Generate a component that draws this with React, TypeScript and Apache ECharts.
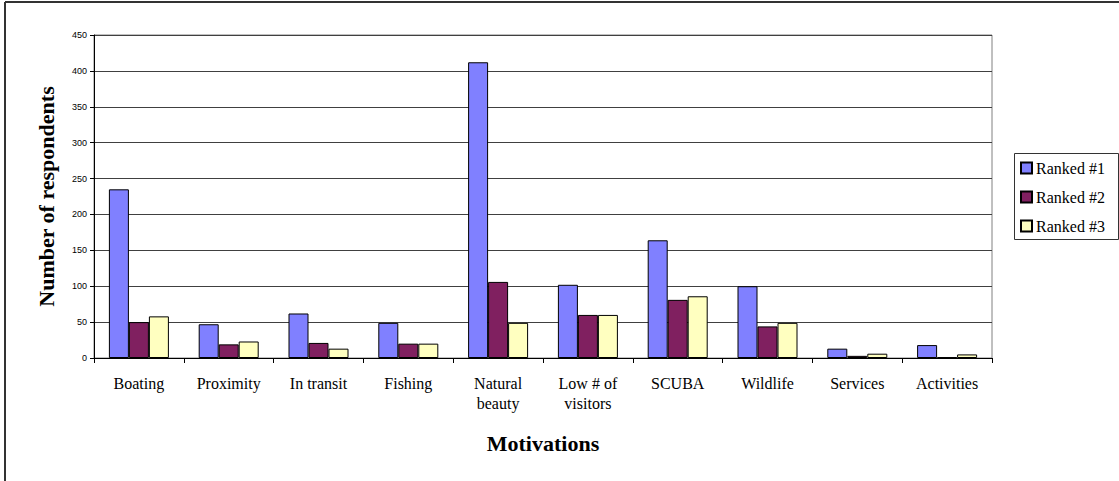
import React, { useEffect, useRef } from "react";
import * as echarts from "echarts";

const categories = [
  "Boating",
  "Proximity",
  "In transit",
  "Fishing",
  "Natural\nbeauty",
  "Low # of\nvisitors",
  "SCUBA",
  "Wildlife",
  "Services",
  "Activities",
];
const seriesNames = ["Ranked #1", "Ranked #2", "Ranked #3"];
const ranked1 = [235, 47, 62, 49, 412, 102, 164, 100, 13, 18];
const ranked2 = [50, 19, 21, 20, 106, 60, 81, 44, 3, 1];
const ranked3 = [58, 23, 13, 20, 49, 60, 86, 49, 6, 5];
const seriesColors = ["#8080FF", "#802060", "#FFFFC0"];
const yTicks = { min: 0, max: 450, interval: 50 };

const SERIF = "'Liberation Serif', 'Times New Roman', serif";
const SANS = "'Liberation Sans', Arial, sans-serif";

export default function App() {
  const ref = useRef<HTMLDivElement>(null);
  useEffect(() => {
    document.body.style.margin = "0";
    if (!ref.current) return;
    const chart = echarts.init(ref.current, null, { renderer: "svg" });
    const gridLeft = 94;
    const gridTop = 35;
    const gridRight = 127;
    const gridBottom = 123;
    const data = [ranked1, ranked2, ranked3];
    chart.setOption({
      animation: false,
      backgroundColor: "#ffffff",
      grid: {
        left: gridLeft,
        top: gridTop,
        right: gridRight,
        bottom: gridBottom,
        containLabel: false,
        show: true,
        borderColor: "#808080",
        borderWidth: 1,
        backgroundColor: "transparent",
      },
      legend: {
        orient: "vertical",
        left: 1020,
        top: 160,
        itemWidth: 11,
        itemHeight: 11,
        itemGap: 13,
        padding: 0,
        icon: "rect",
        textStyle: {
          fontFamily: SERIF,
          fontSize: 16,
          lineHeight: 16,
          color: "#000",
          padding: [0, 0, 0, -1],
        },
        data: seriesNames,
      },
      xAxis: {
        type: "category",
        data: categories,
        boundaryGap: true,
        axisLine: { show: true, lineStyle: { color: "#000", width: 1 } },
        axisTick: { show: true, length: 5, alignWithLabel: false, lineStyle: { color: "#000" } },
        axisLabel: {
          interval: 0,
          margin: 15,
          fontFamily: SERIF,
          fontSize: 16,
          lineHeight: 20,
          color: "#000",
        },
        name: "Motivations",
        nameLocation: "middle",
        nameGap: 74,
        nameTextStyle: {
          fontFamily: SERIF,
          fontSize: 22,
          fontWeight: "bold",
          color: "#000",
        },
        splitLine: { show: false },
      },
      yAxis: {
        type: "value",
        min: yTicks.min,
        max: yTicks.max,
        interval: yTicks.interval,
        axisLine: { show: true, lineStyle: { color: "#000", width: 1 } },
        axisTick: { show: true, length: 4, inside: false, lineStyle: { color: "#000" } },
        axisLabel: {
          margin: 7,
          fontFamily: SANS,
          fontSize: 9,
          color: "#000",
        },
        splitLine: { show: true, lineStyle: { color: "#404040", width: 1 } },
      },
      series: seriesNames.map((name, i) => ({
        name,
        type: "bar",
        data: data[i],
        barWidth: 20,
        barGap: "0%",
        itemStyle: {
          color: seriesColors[i],
          borderColor: "#000",
          borderWidth: 1,
        },
      })),
      graphic: [
        {
          type: "line",
          shape: { x1: 5, y1: 2, x2: 1119, y2: 2 },
          style: { stroke: "#333", lineWidth: 2 },
          silent: true,
        },
        {
          type: "line",
          shape: { x1: 5, y1: 2, x2: 5, y2: 481 },
          style: { stroke: "#333", lineWidth: 2 },
          silent: true,
        },
        {
          type: "rect",
          shape: { x: 1014.5, y: 153.5, width: 104, height: 86 },
          style: { fill: "transparent", stroke: "#333", lineWidth: 1 },
          silent: true,
          z: -1,
        },
        {
          type: "text",
          x: 46,
          y: 196.5,
          rotation: Math.PI / 2,
          style: {
            text: "Number of respondents",
            fontFamily: SERIF,
            fontSize: 22,
            fontWeight: "bold",
            fill: "#000",
            align: "center",
            verticalAlign: "middle",
          },
          silent: true,
        },
      ],
    });
    return () => chart.dispose();
  }, []);
  return <div ref={ref} style={{ width: 1119, height: 481 }} />;
}
